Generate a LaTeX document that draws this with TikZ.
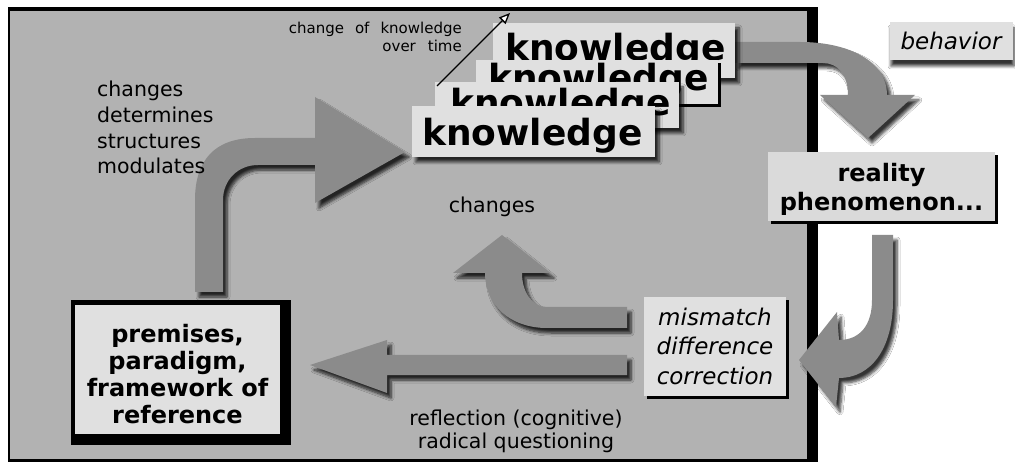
\documentclass[tikz,border=0pt]{standalone}
\usepackage{fontspec}
\setmainfont{DejaVu Sans}
\usetikzlibrary{arrows.meta,shadows,shadows.blur}

\definecolor{panelgray}{HTML}{B2B2B2}
\definecolor{arrowgray}{HTML}{8B8B8B}
\definecolor{boxgray}{HTML}{E0E0E0}
\definecolor{realgray}{HTML}{DADADA}
\newcommand\sizeat[2]{\fontsize{#1pt}{#2pt}\selectfont}

\tikzset{
  grainy/.style={blur shadow={shadow xshift=4pt, shadow yshift=-5pt,
      shadow blur radius=3pt, shadow blur steps=6, shadow opacity=80}},
  hardshadow/.style={drop shadow={shadow xshift=3pt, shadow yshift=-3pt,
      fill=black, opacity=1}},
  fatarrow/.style={fill=arrowgray, grainy},
  panebox/.style={inner sep=0pt, outer sep=0pt, anchor=north west},
  kbox/.style={panebox, fill=boxgray, grainy},
  ktext/.style={inner sep=0pt, anchor=base west, font=\sizeat{36}{40}\bfseries},
  words/.style={inner sep=0pt, font=\sizeat{20.5}{25.7}},
  boldwords/.style={inner sep=0pt, align=center, font=\sizeat{24}{26.7}\bfseries},
}

\begin{document}
\begin{tikzpicture}[x=1pt, y=-1pt]
\useasboundingbox (0,0) rectangle (1015,462);
\fill[white] (0,0) rectangle (1015,462);

% framed grey panel with its heavy right edge
\node[panebox, fill=black, minimum width=810pt, minimum height=455pt] (frame) at (8,7) {};
\node[panebox, fill=panelgray, minimum width=797pt, minimum height=448pt] (panel) at (10,11) {};

% premises -> knowledge
\path[fatarrow] (195,292) -- (195,200)
  .. controls (195,160) and (215,138) .. (255,138) -- (315,138) -- (315,97)
  -- (405,152) -- (315,203) -- (315,165) -- (258,165)
  .. controls (238,165) and (223,180) .. (223,200) -- (223,292) -- cycle;

% reality -> mismatch
\path[fatarrow] (872,235) -- (893,235) -- (893,300)
  .. controls (893,350) and (870,378) .. (839,378) -- (836,407)
  -- (799,360) -- (837,312) -- (839,340)
  .. controls (860,340) and (872,325) .. (872,300) -- cycle;

% mismatch -> changes
\path[fatarrow] (627,307) -- (627,328) -- (547,328)
  .. controls (510,328) and (485,305) .. (485,273) -- (453,273)
  -- (502,235) -- (550,273) -- (522,273)
  .. controls (522,292) and (532,307) .. (547,307) -- cycle;

% mismatch -> premises (reflection)
\path[fatarrow] (627,355) -- (627,375) -- (387,375) -- (387,393)
  -- (310,365) -- (387,340) -- (387,355) -- cycle;

% knowledge -> reality (behavior)
\path[fatarrow] (735,42) -- (800,42)
  .. controls (850,42) and (887,62) .. (887,95) -- (915,95)
  -- (868,138) -- (820,95) -- (848,95)
  .. controls (848,75) and (838,63) .. (823,63) -- (735,63) -- cycle;

% stack of knowledge cards, back to front
\node[kbox, minimum width=242pt, minimum height=55pt] (k4) at (493,23) {};
\node[ktext] (k4t) at (505,60.5) {knowledge};
\node[panebox, fill=boxgray, hardshadow, minimum width=242pt, minimum height=44pt] (k3) at (476,60) {};
\node[ktext] (k3t) at (488,91) {knowledge};
\node[kbox, minimum width=244pt, minimum height=46pt] (k2) at (435,82) {};
\node[ktext] (k2t) at (450,116) {knowledge};
\node[kbox, minimum width=243pt, minimum height=51pt] (k1) at (412,106) {};
\node[ktext] (k1t) at (422,146) {knowledge};

% behavior label
\node[panebox, fill=boxgray, blur shadow={shadow xshift=1pt, shadow yshift=-6pt,
  shadow blur radius=3pt, shadow blur steps=6, shadow opacity=80},
  minimum width=123pt, minimum height=38pt] (beh) at (890,22) {};
\node[inner sep=0pt, anchor=base, font=\sizeat{23}{28}\itshape] (beht) at (951,50) {behavior};

% reality
\node[panebox, fill=realgray, hardshadow, minimum width=227pt, minimum height=69pt] (real) at (768,152) {};
\node[boldwords, anchor=north, font=\sizeat{24}{29}\bfseries] (realt) at (881.5,162.8) {reality\\phenomenon...};

% mismatch
\node[panebox, fill=boxgray, hardshadow, minimum width=142pt, minimum height=99pt] (mis) at (644,297) {};
\node[inner sep=0pt, anchor=north, align=center, font=\sizeat{23}{29.5}\itshape] (mist) at (715,307.5)
  {mismatch\\difference\\correction};

% premises
\node[panebox, fill=black, minimum width=220pt, minimum height=145pt] (premframe) at (71,300) {};
\node[panebox, fill=boxgray, minimum width=205pt, minimum height=129pt] (prem) at (75,305) {};
\node[boldwords, anchor=north] (premt) at (177.5,324.5)
  {premises,\\paradigm,\\framework of\\reference};

% free labels
\node[words, anchor=north west, align=left] (verbs) at (97,81)
  {changes\\determines\\structures\\modulates};
\node[words, anchor=base] (chg) at (492,213) {changes};
\node[words, anchor=north, align=center, font=\sizeat{20.5}{23}] (refl) at (516,409.4)
  {reflection (cognitive)\\radical questioning};
\node[inner sep=0pt, anchor=north east, align=right, font=\sizeat{15}{18}] (time) at (462,21.6)
  {change\hspace{11pt}of\hspace{11pt}knowledge\\over\hspace{12pt}time};

% time axis of the card stack
\coordinate (tstart) at (437,86);
\coordinate (tend) at (510,13);
\draw[line width=1.3pt, -{Triangle[length=11pt, width=9pt, fill=white]}] (tstart) -- (tend);
\end{tikzpicture}
\end{document}
